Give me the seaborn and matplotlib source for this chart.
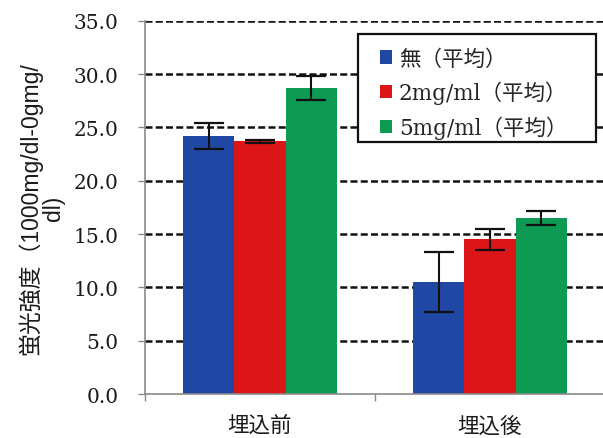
import matplotlib
matplotlib.use("Agg")
import matplotlib.pyplot as plt
import seaborn as sns
import pandas as pd
from matplotlib.patches import Rectangle
from matplotlib.ticker import FixedLocator, FormatStrFormatter

# Measurements: mean fluorescence intensity and error for each condition
stages = ["埋込前", "埋込後"]
conditions = ["無（平均）", "2mg/ml（平均）", "5mg/ml（平均）"]
means_none = [24.2, 10.5]
means_2mg = [23.7, 14.5]
means_5mg = [28.7, 16.5]
err_none = [1.2, 2.85]
err_2mg = [0.15, 1.0]
err_5mg = [1.1, 0.65]

colors = ["#1f47a3", "#dc1518", "#0e9a52"]

df = pd.DataFrame({
    "stage": stages * 3,
    "condition": [c for c in conditions for _ in stages],
    "value": means_none + means_2mg + means_5mg,
})
errors = [err_none, err_2mg, err_5mg]

sns.set_theme(style="white")
plt.rcParams["font.family"] = ["Noto Sans CJK JP", "DejaVu Sans"]

fig = plt.figure(figsize=(6.03, 4.39), dpi=100)
ax = fig.add_axes([0.2405, 0.1002, 0.7628, 0.8504])

sns.barplot(data=df, x="stage", y="value", hue="condition",
            hue_order=conditions, order=stages, palette=colors,
            width=2 / 3, errorbar=None, saturation=1, edgecolor="none",
            linewidth=0, ax=ax, zorder=2)

# Error bars centred on each drawn bar
for container, errs in zip(ax.containers, errors):
    for bar, e in zip(container, errs):
        cx = bar.get_x() + bar.get_width() / 2
        ax.errorbar(cx, bar.get_height(), yerr=e, fmt="none", ecolor="#111111",
                    elinewidth=1.5, capsize=11, capthick=1.6, zorder=4)

ax.set_xlim(-0.5, 1.5)
ax.set_ylim(0, 35)
ax.yaxis.set_major_locator(FixedLocator([0, 5, 10, 15, 20, 25, 30, 35]))
ax.yaxis.set_major_formatter(FormatStrFormatter("%.1f"))

# Dashed horizontal gridlines behind the bars
for yv in [5, 10, 15, 20, 25, 30, 35]:
    ax.axhline(yv, color="#111111", linewidth=1.8, linestyle=(0, (2.8, 1.3)),
               zorder=1)

for side in ["top", "right"]:
    ax.spines[side].set_visible(False)
for side in ["left", "bottom"]:
    ax.spines[side].set_color("#8a8a8a")
    ax.spines[side].set_linewidth(1.2)
    ax.spines[side].set_zorder(3)

ax.tick_params(axis="y", which="major", left=True, length=5, width=1,
               color="#8a8a8a", pad=14)
for lbl in ax.get_yticklabels():
    lbl.set_fontfamily(["DejaVu Serif"])
    lbl.set_fontsize(14.5)
    lbl.set_color("#1a1a1a")

ax.set_xticks([-0.5, 0.5, 1.5], minor=True)
ax.tick_params(axis="x", which="minor", bottom=True, length=5, width=1,
               color="#8a8a8a")
ax.tick_params(axis="x", which="major", bottom=False, pad=9)
for lbl in ax.get_xticklabels():
    lbl.set_fontsize(15.5)
    lbl.set_color("#1a1a1a")

ax.set_xlabel("")
ax.set_ylabel("蛍光強度（1000mg/dl-0gmg/\ndl)", fontsize=16.5,
              fontfamily=["Liberation Sans", "Noto Sans CJK JP"],
              color="#1a1a1a", linespacing=1.0, labelpad=6)

# Legend box with a fixed outline, entries drawn inside it
ax.add_patch(Rectangle((0.463, 0.676), 0.517, 0.289, transform=ax.transAxes,
                       facecolor="white", edgecolor="#111111", linewidth=1.6,
                       zorder=5, clip_on=False))
leg = ax.legend(loc="upper left", bbox_to_anchor=(0.480, 0.965),
                borderaxespad=0, frameon=False,
                handlelength=0.58, handleheight=0.58, handletextpad=0.3,
                labelspacing=0.52, borderpad=0.65,
                prop={"family": ["DejaVu Serif", "Noto Sans CJK JP"], "size": 15.5})
leg.set_zorder(6)

fig.savefig("out.png", dpi=100)
